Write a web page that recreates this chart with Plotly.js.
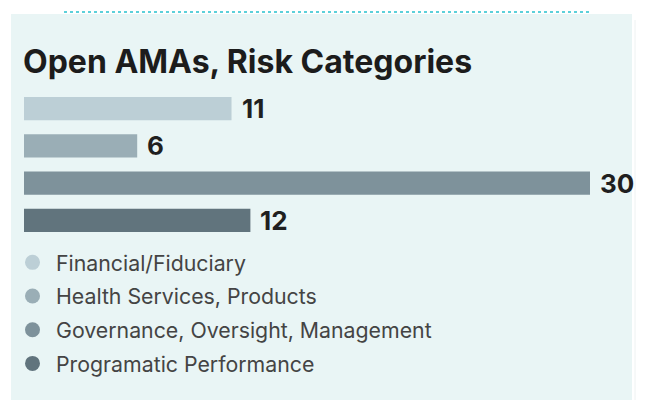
<!DOCTYPE html>
<html>
<head>
<meta charset="utf-8">
<script src="https://cdn.plot.ly/plotly-3.0.1.min.js"></script>
<style>
  html, body { margin: 0; padding: 0; background: #ffffff; }
  #chart { width: 646px; height: 400px; }
</style>
</head>
<body>
<div id="chart"></div>
<script>
// ---- data ----
var categories = ["Financial/Fiduciary", "Health Services, Products", "Governance, Oversight, Management", "Programatic Performance"];
var values = [11, 6, 30, 12];
var barColors = ["#bccfd6", "#9aaeb6", "#7e929b", "#61747d"];
var chartTitle = "Open AMAs, Risk Categories";

// ---- geometry (pixels) ----
var W = 646, H = 400;
var M = { l: 24, r: 56, t: 90, b: 161, autoexpand: false };
var plotW = W - M.l - M.r, plotH = H - M.t - M.b;
function px2x(px) { return (px - M.l) / plotW; }
function px2y(py) { return (H - M.b - py) / plotH; }

var traces = [];
traces.push({
  type: "bar",
  orientation: "h",
  x: values,
  y: categories,
  marker: { color: barColors, line: { width: 0 } },
  showlegend: false,
  hoverinfo: "none"
});
categories.forEach(function (c, i) {
  traces.push({
    type: "scatter",
    mode: "markers",
    x: [null], y: [null],
    name: c,
    legendgroup: "g" + i,
    marker: { color: barColors[i], size: 15, symbol: "circle", line: { width: 0 } },
    showlegend: true,
    hoverinfo: "none"
  });
});

var annotations = values.map(function (v, i) {
  return {
    x: v, y: categories[i], xref: "x", yref: "y",
    text: String(v), showarrow: false,
    xanchor: "left", yanchor: "middle", xshift: 8, yshift: 0,
    font: { family: "Inter, sans-serif", size: 26, weight: 700, color: "#1f1f1f" }
  };
});

var shapes = [
  // light panel
  { type: "rect", xref: "paper", yref: "paper", layer: "below",
    x0: px2x(11), x1: px2x(632), y0: px2y(402), y1: px2y(14),
    fillcolor: "#e9f5f5", line: { width: 0 } },
  // faint right border
  { type: "line", xref: "paper", yref: "paper", layer: "below",
    x0: px2x(635), x1: px2x(635), y0: px2y(400), y1: px2y(20),
    line: { color: "#eef2f2", width: 1 } },
  // dotted top line
  { type: "line", xref: "paper", yref: "paper", layer: "below",
    x0: px2x(64), x1: px2x(590), y0: px2y(12), y1: px2y(12),
    line: { color: "#5cd0da", width: 2, dash: "dot" } }
];

var layout = {
  width: W, height: H,
  margin: M,
  paper_bgcolor: "#ffffff",
  plot_bgcolor: "rgba(0,0,0,0)",
  font: { family: "Inter, sans-serif", color: "#444444" },
  title: {
    text: chartTitle,
    xref: "container", yref: "container",
    x: 23 / W, xanchor: "left",
    y: 1 - 62 / H, yanchor: "middle",
    font: { family: "Inter, sans-serif", size: 32, weight: 700, color: "#1c1c1c" }
  },
  bargap: 0.37,
  xaxis: { range: [0, 30], visible: false, fixedrange: true },
  yaxis: { autorange: "reversed", visible: false, fixedrange: true, type: "category" },
  showlegend: true,
  legend: {
    x: px2x(9), xanchor: "left",
    y: px2y(242), yanchor: "top",
    orientation: "v",
    bgcolor: "rgba(0,0,0,0)",
    borderwidth: 0,
    itemwidth: 37,
    tracegroupgap: 3,
    font: { family: "Inter, sans-serif", size: 21.3, color: "#444444" },
    traceorder: "grouped"
  },
  annotations: annotations,
  shapes: shapes
};

Plotly.newPlot("chart", traces, layout, { displayModeBar: false, staticPlot: true });
</script>
</body>
</html>
